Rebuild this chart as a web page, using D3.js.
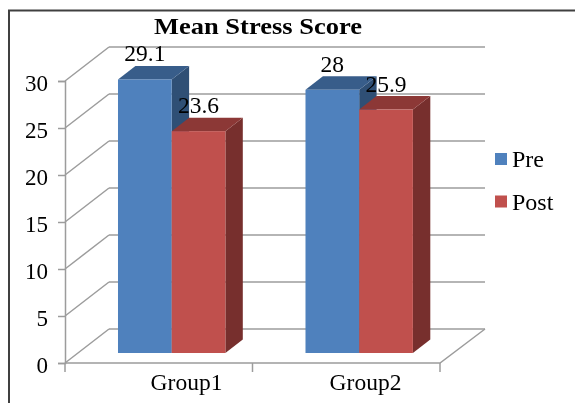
<!DOCTYPE html>
<html>
<head>
<meta charset="utf-8">
<script src="https://cdn.jsdelivr.net/npm/d3@7"></script>
<style>
  html, body { margin: 0; padding: 0; background: #fff; }
  svg { display: block; }
  text { font-family: "Liberation Serif", serif; fill: #000; }
</style>
</head>
<body>
<script>
var groups = ["Group1", "Group2"];
var seriesNames = ["Pre", "Post"];
var preValues = [29.1, 28];
var postValues = [23.6, 25.9];
var yTicks = [0, 5, 10, 15, 20, 25, 30];
var chartTitle = "Mean Stress Score";

var width = 575, height = 403;
var colors = {
  Pre: { front: "#4f81bd", top: "#385d8a", side: "#2f4f75" },
  Post: { front: "#c0504d", top: "#8c3836", side: "#772f2d" }
};
var gridColor = "#9c9c9c";

var svg = d3.select("body").append("svg")
    .attr("width", width)
    .attr("height", height)
  .append("g")
    .style("filter", "blur(0.4px)");

// frame of the pasted picture
svg.append("path")
    .attr("d", "M9,403V10.5H575")
    .attr("fill", "none")
    .attr("stroke", "#404040")
    .attr("stroke-width", 2);

// Scales: front plane of the 3D box
var x = d3.scaleBand().domain(groups).range([65, 440]);
var y = d3.scaleLinear().domain([0, 30]).range([363, 81]);
var xSeries = d3.scaleBand().domain(seriesNames)
    .range([0, x.bandwidth()])
    .paddingOuter(0.746)
    .paddingInner(0);
// the category labels do not sit under the band centres in the original
var xLabels = d3.scalePoint().domain(groups).range([186, 365]);

// the back wall is shifted up and right of the front plane
var depthX = 44, depthY = 34;
var barNear = 0.294, barFar = 0.69;

// gridlines on the back wall and the diagonal on the side wall
svg.append("g").selectAll("line.grid")
    .data(yTicks)
    .join("line")
    .attr("class", "grid")
    .attr("x1", 65 + depthX)
    .attr("x2", 440 + depthX + 1)
    .attr("y1", function(d) { return y(d) - depthY; })
    .attr("y2", function(d) { return y(d) - depthY; })
    .attr("stroke", gridColor)
    .attr("stroke-width", 1.5);

svg.append("g").selectAll("line.side")
    .data(yTicks)
    .join("line")
    .attr("class", "side")
    .attr("x1", 65)
    .attr("x2", 65 + depthX)
    .attr("y1", function(d) { return y(d); })
    .attr("y2", function(d) { return y(d) - depthY; })
    .attr("stroke", gridColor)
    .attr("stroke-width", 1.5);

// front and right edges of the floor
svg.append("path")
    .attr("d", "M65," + y(0) + "H440L" + (440 + depthX + 1) + "," + (y(0) - depthY))
    .attr("fill", "none")
    .attr("stroke", gridColor)
    .attr("stroke-width", 1.5);

// Axes
var yAxis = svg.append("g")
    .attr("transform", "translate(65,0)")
    .call(d3.axisLeft(y).tickValues(yTicks).tickSize(7).tickPadding(10));
yAxis.selectAll("text").style("font-size", "23px").attr("font-family", null).attr("dy", "0.42em");
yAxis.selectAll("line, path").attr("stroke", gridColor).attr("stroke-width", 1.5);

var xAxis = svg.append("g")
    .attr("transform", "translate(0," + y(0) + ")")
    .call(d3.axisBottom(xLabels).tickSize(0).tickPadding(10));
xAxis.select("path").remove();
xAxis.selectAll("text").style("font-size", "23.5px").attr("font-family", null);

// tick marks sit between the groups, not under them
svg.append("g").selectAll("line.xtick")
    .data(groups.concat(["end"]))
    .join("line")
    .attr("class", "xtick")
    .attr("x1", function(d, i) { return x.range()[0] + i * x.step(); })
    .attr("x2", function(d, i) { return x.range()[0] + i * x.step(); })
    .attr("y1", y(0))
    .attr("y2", y(0) + 9)
    .attr("stroke", gridColor)
    .attr("stroke-width", 1.5);

// Bars
var rows = [];
groups.forEach(function(g, i) {
  rows.push({ group: g, name: "Pre", value: preValues[i] });
  rows.push({ group: g, name: "Post", value: postValues[i] });
});

function barBox(d) {
  var x0 = x(d.group) + xSeries(d.name) + depthX * barNear;
  var w = xSeries.bandwidth();
  return {
    x0: x0,
    x1: x0 + w,
    base: y(0) - depthY * barNear,
    top: y(d.value) - depthY * barNear,
    dx: depthX * (barFar - barNear),
    dy: depthY * (barFar - barNear)
  };
}

var bars = svg.append("g").selectAll("g.bar")
    .data(rows)
    .join("g")
    .attr("class", "bar");

bars.append("path")
    .attr("fill", function(d) { return colors[d.name].side; })
    .attr("d", function(d) {
      var b = barBox(d);
      return "M" + b.x1 + "," + b.top + "L" + (b.x1 + b.dx) + "," + (b.top - b.dy) +
        "V" + (b.base - b.dy) + "L" + b.x1 + "," + b.base + "Z";
    });

bars.append("path")
    .attr("fill", function(d) { return colors[d.name].top; })
    .attr("d", function(d) {
      var b = barBox(d);
      return "M" + b.x0 + "," + b.top + "L" + (b.x0 + b.dx) + "," + (b.top - b.dy) +
        "H" + (b.x1 + b.dx) + "L" + b.x1 + "," + b.top + "Z";
    });

bars.append("rect")
    .attr("fill", function(d) { return colors[d.name].front; })
    .attr("x", function(d) { return barBox(d).x0; })
    .attr("y", function(d) { return barBox(d).top; })
    .attr("width", xSeries.bandwidth())
    .attr("height", function(d) { var b = barBox(d); return b.base - b.top; });

// Data labels
svg.append("g").selectAll("text")
    .data(rows)
    .join("text")
    .attr("x", function(d) { var b = barBox(d); return (b.x0 + b.x1) / 2; })
    .attr("y", function(d) { return barBox(d).top - 18; })
    .attr("text-anchor", "middle")
    .style("font-size", "23.5px")
    .text(function(d) { return d.value; });

// Title
svg.append("text")
    .attr("x", 258)
    .attr("y", 33.5)
    .attr("text-anchor", "middle")
    .attr("textLength", 208)
    .attr("lengthAdjust", "spacingAndGlyphs")
    .style("font-size", "24px")
    .style("font-weight", "bold")
    .text(chartTitle);

// Legend
var legend = svg.append("g").selectAll("g")
    .data(seriesNames)
    .join("g")
    .attr("transform", function(d, i) { return "translate(495," + (153 + i * 42.5) + ")"; });

legend.append("rect")
    .attr("width", 12)
    .attr("height", 12)
    .attr("fill", function(d) { return colors[d].front; });

legend.append("text")
    .attr("x", 17)
    .attr("y", 14)
    .style("font-size", "24px")
    .text(function(d) { return d; });
</script>
</body>
</html>
